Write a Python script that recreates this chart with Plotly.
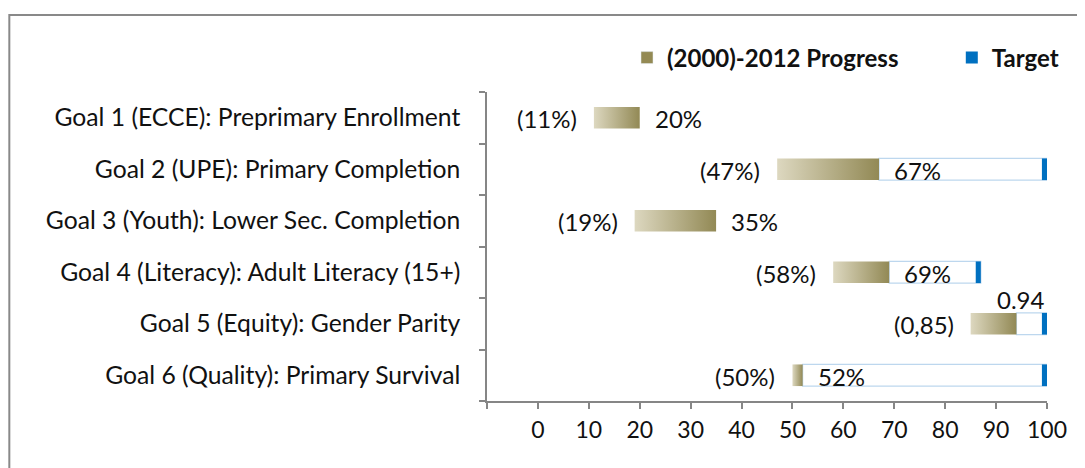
import plotly.graph_objects as go

categories = [
    "Goal 1 (ECCE): Preprimary Enrollment",
    "Goal 2 (UPE): Primary Completion",
    "Goal 3 (Youth): Lower Sec. Completion",
    "Goal 4 (Literacy): Adult Literacy (15+)",
    "Goal 5 (Equity): Gender Parity",
    "Goal 6 (Quality): Primary Survival",
]
baseline_2000 = [11, 47, 19, 58, 85, 50]
current_2012 = [20, 67, 35, 69, 94, 52]
target = [None, 100, None, 87, 100, 100]
baseline_labels = ["(11%)", "(47%)", "(19%)", "(58%)", "(0,85)", "(50%)"]
current_labels = ["20%", "67%", "35%", "69%", "0.94", "52%"]
x_tick_vals = [-10, 0, 10, 20, 30, 40, 50, 60, 70, 80, 90, 100]
x_tick_text = ["", "0", "10", "20", "30", "40", "50", "60", "70", "80", "90", "100"]

FONT = "Lato"
TXT = "#111111"
OLIVE_LIGHT = "#ddd8c0"
OLIVE_DARK = "#928955"
BLUE = "#0070c0"
BAR_W = 0.42
h = BAR_W / 2
idx = list(range(len(categories)))

fig = go.Figure()

# remaining distance to target
t_idx = [i for i in idx if target[i] is not None]
fig.add_trace(go.Bar(
    y=t_idx, x=[target[i] - current_2012[i] for i in t_idx],
    base=[current_2012[i] for i in t_idx], orientation="h", width=BAR_W,
    marker=dict(color="white", line=dict(color="#bdd7ee", width=1.2)),
    showlegend=False, hoverinfo="skip",
))

# gradient progress segments
for i in idx:
    b, c = baseline_2000[i], current_2012[i]
    fig.add_trace(go.Scatter(
        x=[b, c, c, b, b], y=[i - h, i - h, i + h, i + h, i - h],
        mode="lines", line=dict(width=0), fill="toself",
        fillcolor=OLIVE_DARK,
        fillgradient=dict(type="horizontal",
                          colorscale=[[0, OLIVE_LIGHT], [1, OLIVE_DARK]]),
        showlegend=False, hoverinfo="skip",
    ))

# legend entry for progress
fig.add_trace(go.Bar(
    x=[None], y=[None], orientation="h", name="<b>(2000)-2012 Progress</b>",
    marker=dict(color="#948a54"), showlegend=True, legend="legend",
))

# target markers
fig.add_trace(go.Bar(
    y=t_idx, x=[1] * len(t_idx), base=[target[i] - 1 for i in t_idx],
    orientation="h", width=BAR_W, marker=dict(color=BLUE, line=dict(width=0)),
    name="<b>Target</b>", showlegend=True, hoverinfo="skip", legend="legend2",
))

anns = []
for i in idx:
    anns.append(dict(
        x=baseline_2000[i], y=i, xref="x", yref="y", text=baseline_labels[i],
        showarrow=False, xanchor="right", yanchor="middle", xshift=-15, yshift=-1,
        font=dict(family=FONT, size=24, color=TXT),
    ))
    if i == 4:
        anns.append(dict(
            x=target[i], y=i - h, xref="x", yref="y", text=current_labels[i],
            showarrow=False, xanchor="right", yanchor="bottom", yshift=-3,
            font=dict(family=FONT, size=24, color=TXT),
        ))
    else:
        anns.append(dict(
            x=current_2012[i], y=i, xref="x", yref="y", text=current_labels[i],
            showarrow=False, xanchor="left", yanchor="middle", xshift=13, yshift=-1,
            font=dict(family=FONT, size=24, color=TXT),
        ))

leg_common = dict(
    orientation="h", yanchor="middle", y=1.11, xanchor="left",
    font=dict(family=FONT, size=24, color=TXT),
    itemwidth=30, bgcolor="rgba(0,0,0,0)",
)

fig.update_layout(
    width=1077, height=460,
    margin=dict(l=479, r=38, t=84, b=67),
    paper_bgcolor="white", plot_bgcolor="white",
    barmode="overlay",
    font=dict(family=FONT, size=24, color=TXT),
    annotations=anns,
    legend=dict(x=0.25, **leg_common),
    legend2=dict(x=0.83, **leg_common),
    shapes=[dict(
        type="rect", xref="paper", yref="paper",
        x0=-0.853, x1=1.08, y0=-0.25, y1=1.249,
        line=dict(color="#898989", width=2), fillcolor="rgba(0,0,0,0)",
        layer="below",
    )],
)

fig.update_xaxes(
    range=[-10, 100], tickvals=x_tick_vals, ticktext=x_tick_text,
    showgrid=False, zeroline=False,
    showline=True, linecolor="#868686", linewidth=1.5,
    ticks="outside", ticklen=6, tickcolor="#868686", tickwidth=1.5,
    ticklabelstandoff=2,
    tickfont=dict(family=FONT, size=23, color=TXT),
)
fig.update_yaxes(
    range=[len(idx) - 0.5, -0.5], tickvals=idx, ticktext=categories,
    showgrid=False, zeroline=False,
    showline=True, linecolor="#868686", linewidth=1.5,
    ticks="", ticklabelstandoff=20,
    minor=dict(tickvals=[i - 0.5 for i in idx] + [len(idx) - 0.5],
               ticks="outside", ticklen=6, tickcolor="#868686", tickwidth=1.5),
    tickfont=dict(family=FONT, size=24.7, color=TXT),
)

fig.write_html("out.html")
